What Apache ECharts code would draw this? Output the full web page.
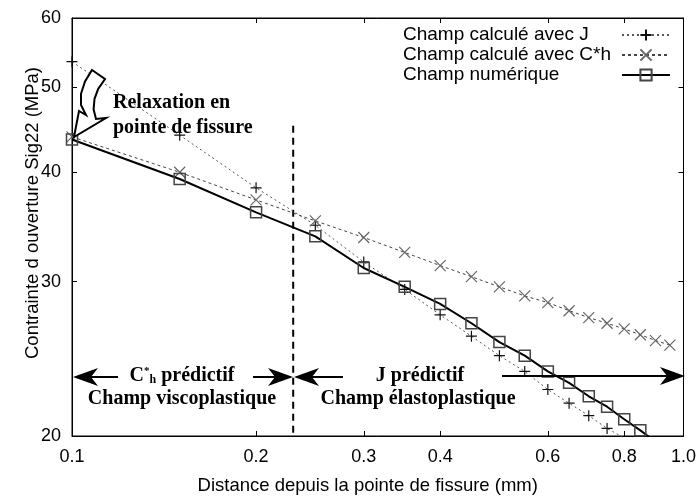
<!DOCTYPE html>
<html>
<head>
<meta charset="utf-8">
<script src="https://cdn.jsdelivr.net/npm/echarts@6/dist/echarts.min.js"></script>
<style>
html,body{margin:0;padding:0;background:#fff;}
#c{width:699px;height:500px;}
</style>
</head>
<body>
<div id="c"></div>
<script>
// ---- data ----
const xTicks = [0.1, 0.2, 0.3, 0.4, 0.6, 0.8, 1.0];
const yTicks = [20, 30, 40, 50, 60];

const namesSeries = ['Champ calculé avec J', 'Champ calculé avec C*h', 'Champ numérique'];

const xJ = [0.1, 0.15, 0.2, 0.25, 0.3, 0.35, 0.4, 0.45, 0.5, 0.55, 0.6, 0.65, 0.7, 0.75, 0.8];
const yJ = [53.5, 44.1, 38.4, 34.8, 31.6, 29.4, 27.5, 26.0, 24.7, 23.7, 22.6, 21.8, 21.1, 20.4, 19.9];

const xC = [0.1, 0.15, 0.2, 0.25, 0.3, 0.35, 0.4, 0.45, 0.5, 0.55, 0.6, 0.65, 0.7, 0.75, 0.8, 0.85, 0.9, 0.95];
const yC = [43.9, 40.0, 37.2, 35.2, 33.7, 32.4, 31.3, 30.4, 29.6, 28.9, 28.4, 27.8, 27.3, 26.9, 26.5, 26.1, 25.7, 25.4];

const xN = [0.1, 0.15, 0.2, 0.25, 0.3, 0.35, 0.4, 0.45, 0.5, 0.55, 0.6, 0.65, 0.7, 0.75, 0.8, 0.85, 0.9];
const yN = [43.6, 39.3, 36.0, 33.8, 31.1, 29.6, 28.3, 26.9, 25.6, 24.7, 23.7, 23.0, 22.2, 21.6, 20.9, 20.3, 19.7];

const dividerX = [0.23, 0.23];
const dividerY = [45.2, 20];

// ---- chart ----
const pair = (xs, ys) => xs.map((x, i) => [x, ys[i]]);
const chart = echarts.init(document.getElementById('c'), null, {renderer: 'canvas'});

const SANS = 'Liberation Sans, Arial, sans-serif';
const SERIF = 'Liberation Serif, Times New Roman, serif';
const fmtX = v => (Math.abs(v - 1) < 1e-9 ? '1.0' : String(v));

const plusPath = 'path://M5,0L5,10M0,5L10,5';
const crossPath = 'path://M0,0L10,10M10,0L0,10';
const rectPath = 'path://M0,0L10,0L10,10L0,10Z';

function xAxisDef(pos, showLabels) {
  return {
    type: 'log', logBase: 10, min: 0.1, max: 1.0, position: pos,
    name: showLabels ? 'Distance depuis la pointe de fissure (mm)' : '',
    nameLocation: 'middle', nameGap: 40, nameMoveOverlap: false,
    nameTextStyle: {fontFamily: SANS, fontSize: 18.5, color: '#000', padding: [0, 20, 0, 0]},
    axisLine: {show: true, onZero: false, lineStyle: {color: '#000', width: 1}},
    axisTick: {show: true, inside: true, length: 5, customValues: xTicks, lineStyle: {color: '#000'}},
    axisLabel: {show: showLabels, customValues: xTicks, formatter: fmtX, fontFamily: SANS, fontSize: 18, color: '#000', margin: 12},
    minorTick: {show: false}, splitLine: {show: false}
  };
}
function yAxisDef(pos, showLabels) {
  return {
    type: 'log', logBase: 10, min: 20, max: 60, position: pos,
    name: showLabels ? 'Contrainte d ouverture Sig22 (MPa)' : '',
    nameLocation: 'middle', nameGap: 30, nameMoveOverlap: false,
    nameTextStyle: {fontFamily: SANS, fontSize: 18.5, color: '#000', padding: [0, 0, 0, 28]},
    axisLine: {show: true, onZero: false, lineStyle: {color: '#000', width: 1}},
    axisTick: {show: true, inside: true, length: 5, customValues: yTicks, lineStyle: {color: '#000'}},
    axisLabel: {show: showLabels, customValues: yTicks, fontFamily: SANS, fontSize: 18, color: '#000', margin: 11},
    minorTick: {show: false}, splitLine: {show: false}
  };
}

const arrowBody = [[92,70],[105,79],[98,89.3],[94.5,99],[93.6,109.3],[96,119],[106,118],[74,137],[79,111],[86,115],[81,104.9],[81,93.8],[85,81.5]];

const option = {
  animation: false,
  backgroundColor: '#fff',
  grid: {left: 72, right: 15, top: 18, bottom: 63, show: true, borderColor: '#000', borderWidth: 1, backgroundColor: 'transparent'},
  xAxis: [xAxisDef('bottom', true), xAxisDef('top', false)],
  yAxis: [yAxisDef('left', true), yAxisDef('right', false)],
  legend: {
    data: namesSeries,
    orient: 'vertical',
    left: 398, top: 20,
    align: 'right',
    itemWidth: 48, itemHeight: 14, itemGap: 0,
    selectedMode: false,
    formatter: n => '{t|' + n + '}',
    textStyle: {
      fontFamily: SANS, fontSize: 19, color: '#000', lineHeight: 20,
      rich: {t: {width: 214, align: 'left', fontFamily: SANS, fontSize: 19, color: '#000', lineHeight: 20}}
    }
  },
  series: [
    {
      name: namesSeries[0], type: 'line', data: pair(xJ, yJ), xAxisIndex: 0, yAxisIndex: 0,
      symbol: plusPath, symbolSize: 11, showSymbol: true, clip: true,
      lineStyle: {color: '#555', width: 1, type: [2, 3]},
      itemStyle: {color: 'rgba(0,0,0,0)', borderColor: '#111', borderWidth: 1.2},
      emphasis: {disabled: true}, z: 3
    },
    {
      name: namesSeries[1], type: 'line', data: pair(xC, yC), xAxisIndex: 0, yAxisIndex: 0,
      symbol: crossPath, symbolSize: 11, showSymbol: true, clip: true,
      lineStyle: {color: '#444', width: 1, type: [3, 3]},
      itemStyle: {color: 'rgba(0,0,0,0)', borderColor: '#666', borderWidth: 1.2},
      emphasis: {disabled: true}, z: 3
    },
    {
      name: namesSeries[2], type: 'line', data: pair(xN, yN), xAxisIndex: 0, yAxisIndex: 0,
      symbol: rectPath, symbolSize: 11, showSymbol: true, clip: true,
      lineStyle: {color: '#000', width: 2},
      itemStyle: {color: 'rgba(0,0,0,0)', borderColor: '#444', borderWidth: 1.5},
      emphasis: {disabled: true}, z: 4
    },
    {
      name: 'divider', type: 'line', data: pair(dividerX, dividerY), xAxisIndex: 0, yAxisIndex: 0,
      symbol: 'none', clip: false, silent: true,
      lineStyle: {color: '#000', width: 2, type: [7, 5]},
      emphasis: {disabled: true}, z: 2
    }
  ],
  graphic: {
    elements: [
      {
        type: 'polygon', z: 20,
        shape: {points: arrowBody},
        style: {fill: '#fff', stroke: '#000', lineWidth: 2}
      },
      {
        type: 'text', z: 20, x: 113, y: 90,
        style: {text: 'Relaxation en\npointe de fissure', font: 'bold 20px ' + SERIF, fill: '#000', lineHeight: 25, align: 'left', verticalAlign: 'top'}
      },
      {type: 'line', z: 20, shape: {x1: 90, y1: 377, x2: 118, y2: 377}, style: {stroke: '#000', lineWidth: 2}},
      {type: 'polygon', z: 20, shape: {points: [[73, 377], [98, 368], [91, 377], [98, 386]]}, style: {fill: '#000'}},
      {type: 'line', z: 20, shape: {x1: 253, y1: 377, x2: 276, y2: 377}, style: {stroke: '#000', lineWidth: 2}},
      {type: 'polygon', z: 20, shape: {points: [[293, 377], [268, 368], [275, 377], [268, 386]]}, style: {fill: '#000'}},
      {
        type: 'text', z: 20, x: 182, y: 376,
        style: {
          text: '{b|C}{sup|*}{sub|h}{b| prédictif}',
          align: 'center', verticalAlign: 'middle',
          rich: {
            b: {font: 'bold 20px ' + SERIF, fill: '#000'},
            sup: {font: 'bold 11px ' + SERIF, fill: '#000', verticalAlign: 'top', padding: [0, 0, 8, 0]},
            sub: {font: 'bold 12px ' + SERIF, fill: '#000', verticalAlign: 'bottom', padding: [6, 0, 0, 0]}
          }
        }
      },
      {
        type: 'text', z: 20, x: 182, y: 399,
        style: {text: 'Champ viscoplastique', font: 'bold 20px ' + SERIF, fill: '#000', align: 'center', verticalAlign: 'middle'}
      },
      {type: 'line', z: 20, shape: {x1: 310, y1: 377, x2: 343, y2: 377}, style: {stroke: '#000', lineWidth: 2}},
      {type: 'polygon', z: 20, shape: {points: [[294, 377], [319, 368], [312, 377], [319, 386]]}, style: {fill: '#000'}},
      {type: 'line', z: 20, shape: {x1: 502, y1: 376, x2: 668, y2: 376}, style: {stroke: '#000', lineWidth: 2}},
      {type: 'polygon', z: 20, shape: {points: [[685, 376], [660, 367], [667, 376], [660, 385]]}, style: {fill: '#000'}},
      {
        type: 'text', z: 20, x: 420, y: 376,
        style: {text: 'J prédictif', font: 'bold 20px ' + SERIF, fill: '#000', align: 'center', verticalAlign: 'middle'}
      },
      {
        type: 'text', z: 20, x: 418, y: 399,
        style: {text: 'Champ élastoplastique', font: 'bold 20px ' + SERIF, fill: '#000', align: 'center', verticalAlign: 'middle'}
      }
    ]
  }
};
chart.setOption(option);
</script>
</body>
</html>
